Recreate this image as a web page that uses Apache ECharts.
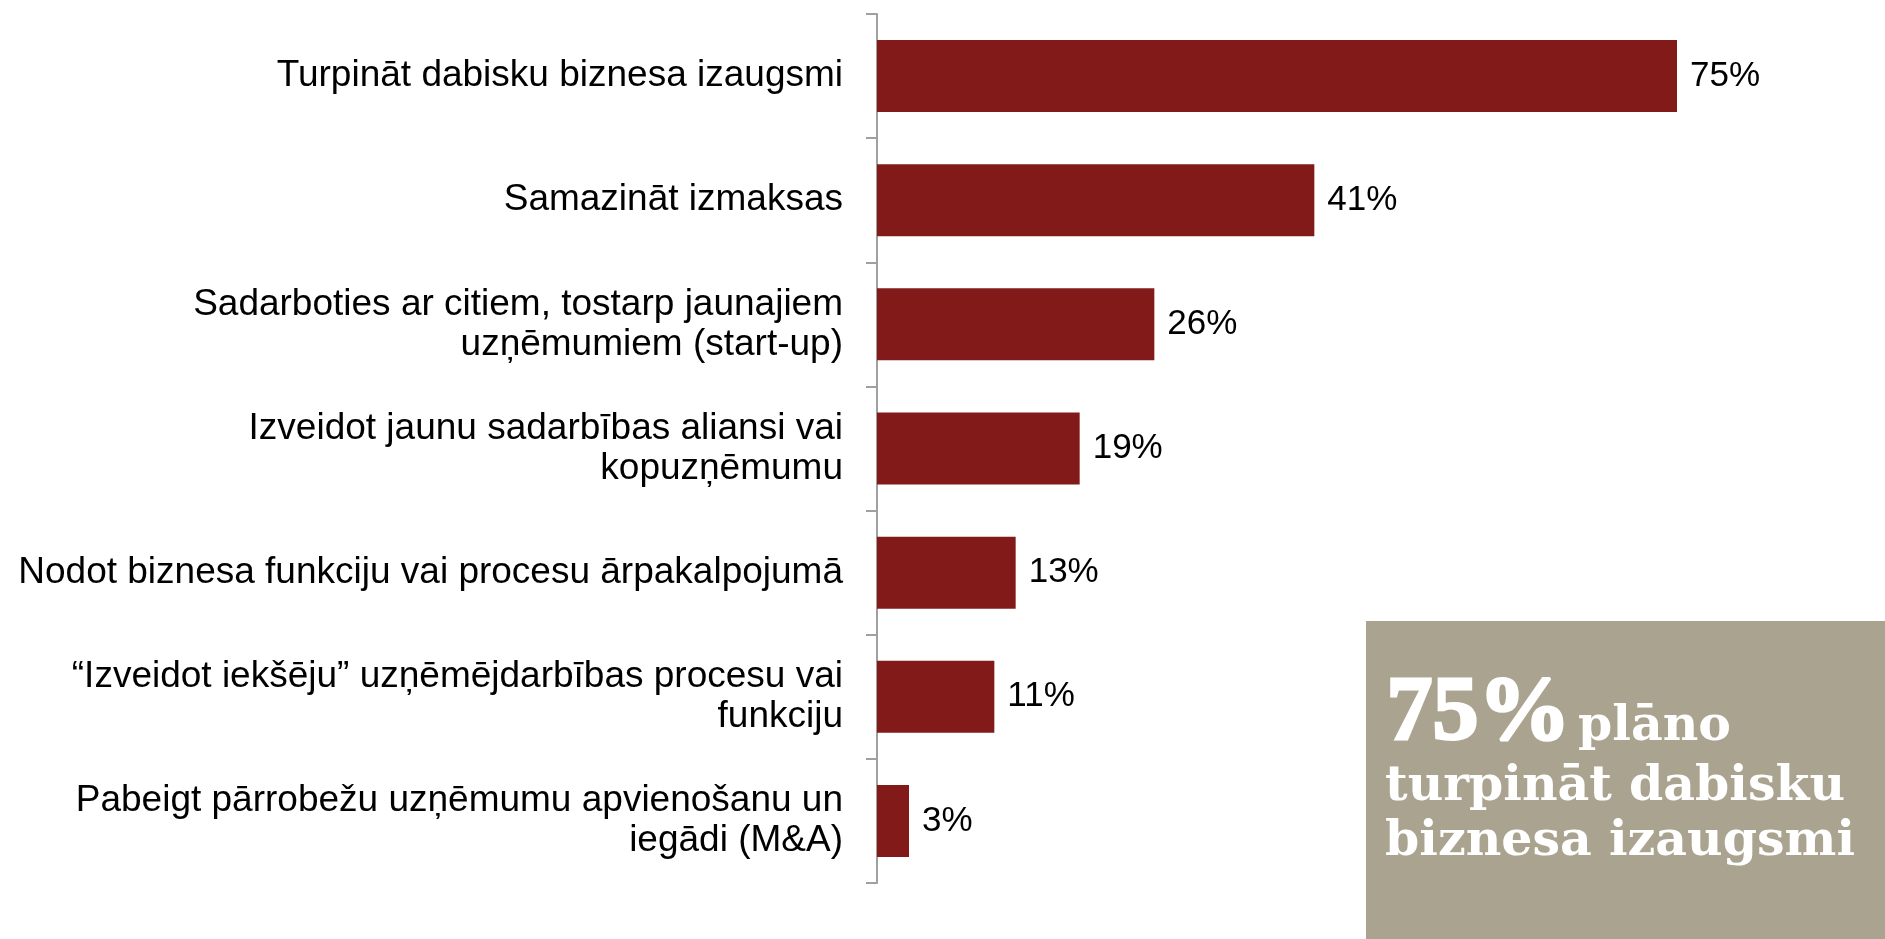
<!DOCTYPE html>
<html>
<head>
  <meta charset="utf-8">
  <title>Biznesa plāni</title>
  <script src="https://cdn.jsdelivr.net/npm/echarts@6/dist/echarts.min.js"></script>
  <style>
    body { margin: 0; padding: 0; background: #fff; }
    #main { width: 1885px; height: 939px; }
  </style>
</head>
<body>
  <div id="main"></div>
  <script>
    var categories = [
      'Turpināt dabisku biznesa izaugsmi',
      'Samazināt izmaksas',
      'Sadarboties ar citiem, tostarp jaunajiem\nuzņēmumiem (start-up)',
      'Izveidot jaunu sadarbības aliansi vai\nkopuzņēmumu',
      'Nodot biznesa funkciju vai procesu ārpakalpojumā',
      '“Izveidot iekšēju” uzņēmējdarbības procesu vai\nfunkciju',
      'Pabeigt pārrobežu uzņēmumu apvienošanu un\niegādi (M&A)'
    ];
    var values = [75, 41, 26, 19, 13, 11, 3];

    var boxBig = '75%';
    var boxLines = ['plāno', 'turpināt dabisku', 'biznesa izaugsmi'];

    var chart = echarts.init(document.getElementById('main'));

    function boxText(txt, x, y, size, family, stroke) {
      return {
        type: 'text',
        left: x, top: y,
        style: {
          text: txt,
          fill: '#fff',
          stroke: stroke ? '#fff' : null,
          lineWidth: stroke || 0,
          fontFamily: family || '"DejaVu Serif", serif',
          fontWeight: 700,
          fontSize: size
        }
      };
    }

    var option = {
      animation: false,
      grid: { left: 877, right: 48, top: 14, bottom: 56 },
      xAxis: {
        type: 'value',
        min: 0,
        max: 90,
        show: false,
        splitLine: { show: false }
      },
      yAxis: {
        type: 'category',
        inverse: true,
        data: categories,
        axisLine: { lineStyle: { color: '#a0a0a0', width: 2 } },
        axisTick: { show: true, length: 11, lineStyle: { color: '#a0a0a0', width: 2 } },
        axisLabel: {
          margin: 34,
          color: '#000',
          fontFamily: 'Liberation Sans, Arial, sans-serif',
          fontSize: 37,
          lineHeight: 40
        }
      },
      series: [{
        type: 'bar',
        data: values,
        barCategoryGap: '42%',
        itemStyle: { color: '#831a1a' },
        label: {
          show: true,
          position: 'right',
          distance: 13,
          formatter: '{c}%',
          color: '#000',
          fontFamily: 'Liberation Sans, Arial, sans-serif',
          fontSize: 35
        }
      }],
      graphic: [
        {
          type: 'rect',
          left: 1366, top: 621,
          shape: { width: 519, height: 318 },
          style: { fill: '#aaa38f' },
          silent: true
        },
        boxText(boxBig, 1385, 668, 92, '"Liberation Serif", serif', 3),
        boxText(boxLines[0], 1578, 703, 49),
        boxText(boxLines[1], 1385, 763, 49),
        boxText(boxLines[2], 1385, 818, 49)
      ]
    };

    chart.setOption(option);
  </script>
</body>
</html>
